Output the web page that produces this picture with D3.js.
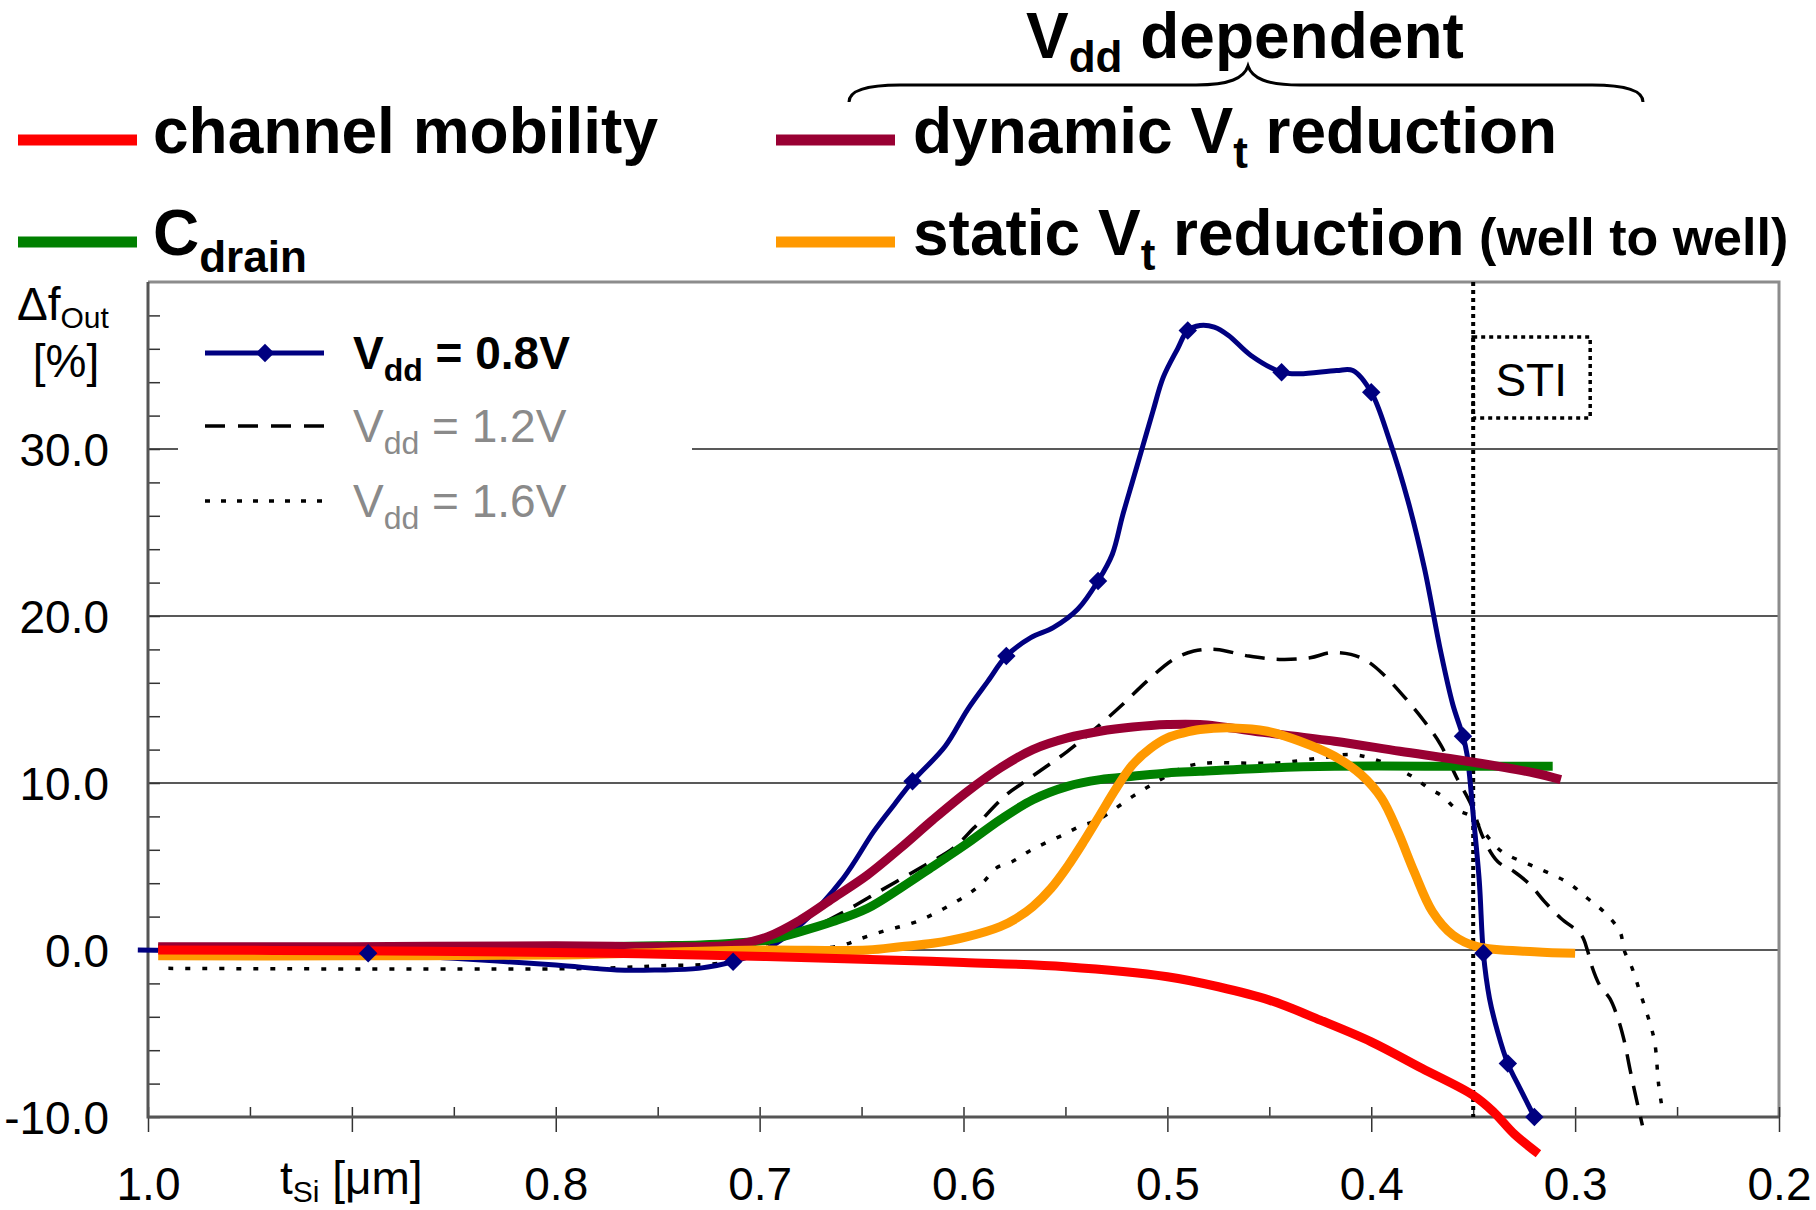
<!DOCTYPE html>
<html>
<head>
<meta charset="utf-8">
<script src="https://cdn.jsdelivr.net/npm/d3@7"></script>
<style>
  body { margin: 0; background: #fff; }
  svg { display: block; }
  text { font-family: "Liberation Sans", Arial, sans-serif; white-space: pre; }
</style>
</head>
<body>
<svg id="chart"></svg>
<script>
/* Values: [t_Si in um, delta f_out in %] */
var mobility = [[0.995, 0.0], [0.9, -0.05], [0.8, -0.15], [0.73, -0.3], [0.65, -0.55], [0.6, -0.75],
  [0.55, -1.0], [0.5, -1.6], [0.475, -2.2], [0.45, -3.0], [0.425, -4.2], [0.4, -5.5], [0.375, -7.1],
  [0.35, -8.7], [0.34, -9.7], [0.33, -11.0], [0.318, -12.2]];

var cDrain = [[0.995, 0.1], [0.9, 0.1], [0.8, 0.15], [0.75, 0.25], [0.729, 0.3], [0.713, 0.4],
  [0.696, 0.6], [0.68, 1.1], [0.664, 1.7], [0.647, 2.5], [0.631, 3.7], [0.615, 5.0], [0.598, 6.4],
  [0.582, 7.8], [0.566, 9.0], [0.549, 9.8], [0.533, 10.2], [0.517, 10.4], [0.5, 10.6], [0.484, 10.7],
  [0.45, 10.9], [0.418, 11.0], [0.353, 11.0], [0.311, 11.0]];

var dynamicVt = [[0.995, 0.2], [0.9, 0.2], [0.8, 0.25], [0.729, 0.2], [0.713, 0.3], [0.696, 0.8],
  [0.68, 1.8], [0.664, 3.1], [0.647, 4.5], [0.631, 6.1], [0.615, 7.8], [0.598, 9.5], [0.582, 10.9],
  [0.566, 12.0], [0.549, 12.7], [0.533, 13.1], [0.517, 13.35], [0.5, 13.5], [0.484, 13.5], [0.451, 13.0],
  [0.418, 12.5], [0.386, 11.9], [0.353, 11.3], [0.32, 10.6], [0.307, 10.2]];

var staticVt = [[0.995, -0.35], [0.9, -0.35], [0.8, -0.3], [0.75, -0.15], [0.7, 0.0], [0.647, 0.0],
  [0.631, 0.2], [0.615, 0.4], [0.598, 0.8], [0.582, 1.4], [0.574, 1.9], [0.566, 2.6], [0.557, 3.7],
  [0.549, 5.0], [0.541, 6.5], [0.533, 8.1], [0.525, 9.7], [0.517, 11.1], [0.508, 12.1], [0.5, 12.7],
  [0.492, 13.0], [0.484, 13.2], [0.468, 13.3], [0.451, 13.1], [0.435, 12.5], [0.418, 11.6], [0.405, 10.5],
  [0.395, 9.1], [0.387, 7.1], [0.379, 4.7], [0.37, 2.3], [0.36, 0.9], [0.348, 0.2], [0.32, -0.1], [0.3, -0.2]];

var vdd08 = [[1.005, 0.0], [0.95, -0.1], [0.892, -0.2], [0.85, -0.5], [0.8, -0.9], [0.77, -1.2],
  [0.75, -1.2], [0.73, -1.1], [0.713, -0.7], [0.696, 0.1], [0.68, 1.5], [0.659, 4.3], [0.644, 7.1],
  [0.634, 8.7], [0.625, 10.1], [0.609, 12.2], [0.598, 14.4], [0.588, 16.1], [0.579, 17.6], [0.567, 18.7],
  [0.556, 19.3], [0.544, 20.4], [0.534, 22.1], [0.527, 23.7], [0.522, 26.0], [0.517, 28.1], [0.512, 30.2],
  [0.507, 32.3], [0.502, 34.3], [0.495, 36.0], [0.49, 37.1], [0.484, 37.4], [0.477, 37.3], [0.47, 36.8],
  [0.459, 35.6], [0.444, 34.6], [0.435, 34.5], [0.417, 34.7], [0.409, 34.7], [0.4, 33.4], [0.391, 30.5],
  [0.382, 26.9], [0.374, 22.9], [0.366, 17.9], [0.36, 14.7], [0.355, 12.8], [0.353, 11.7], [0.35, 8.1],
  [0.347, 4.1], [0.345, -0.2], [0.342, -2.9], [0.338, -4.9], [0.333, -6.8], [0.327, -8.3], [0.32, -10.0]];

var vdd08Markers = [[0.892, -0.2], [0.713, -0.7], [0.625, 10.1], [0.579, 17.6], [0.534, 22.1],
  [0.49, 37.1], [0.444, 34.6], [0.4, 33.4], [0.355, 12.8], [0.345, -0.2], [0.333, -6.8], [0.32, -10.0]];

var vdd12 = [[0.995, 0.0], [0.8, 0.0], [0.72, 0.0], [0.7, 0.3], [0.68, 1.0], [0.66, 2.2], [0.64, 3.6],
  [0.62, 5.0], [0.605, 6.1], [0.595, 7.3], [0.579, 9.3], [0.571, 10.0], [0.549, 11.9], [0.533, 13.5],
  [0.522, 14.7], [0.51, 16.1], [0.497, 17.4], [0.487, 17.9], [0.476, 18.0], [0.46, 17.6], [0.445, 17.4],
  [0.43, 17.5], [0.42, 17.8], [0.41, 17.7], [0.402, 17.3], [0.394, 16.5], [0.382, 14.9], [0.374, 13.7],
  [0.366, 12.3], [0.358, 10.3], [0.351, 8.7], [0.345, 6.7], [0.338, 5.3], [0.33, 4.7], [0.322, 3.9],
  [0.315, 2.9], [0.307, 1.9], [0.297, 0.9], [0.294, 0.0], [0.292, -0.9], [0.288, -2.1], [0.283, -2.9],
  [0.279, -4.1], [0.276, -5.4], [0.273, -7.2], [0.27, -8.9], [0.267, -10.5]];

var vdd16 = [[0.99, -1.1], [0.78, -1.1], [0.75, -0.95], [0.72, -0.8], [0.7, -0.3], [0.675, 0.0],
  [0.659, 0.3], [0.65, 0.7], [0.64, 1.1], [0.631, 1.4], [0.623, 1.7], [0.614, 2.2], [0.605, 2.8],
  [0.597, 3.4], [0.59, 4.1], [0.584, 4.9], [0.576, 5.3], [0.568, 5.9], [0.56, 6.4], [0.551, 6.9],
  [0.543, 7.4], [0.534, 7.8], [0.517, 9.2], [0.509, 9.8], [0.502, 10.3], [0.493, 10.9], [0.487, 11.1],
  [0.48, 11.2], [0.447, 11.2], [0.425, 11.5], [0.41, 11.7], [0.398, 11.4], [0.38, 10.4], [0.372, 9.7],
  [0.365, 9.2], [0.358, 8.4], [0.351, 8.0], [0.345, 7.1], [0.336, 5.9], [0.322, 5.1], [0.311, 4.5],
  [0.303, 4.0], [0.294, 3.1], [0.286, 2.3], [0.278, 1.1], [0.276, 0.0], [0.272, -1.1], [0.268, -2.6],
  [0.264, -4.1], [0.261, -5.5], [0.259, -8.1], [0.257, -9.7]];

var xTicks = [1.0, 0.9, 0.8, 0.7, 0.6, 0.5, 0.4, 0.3, 0.2];
var xMinorTicks = [0.95, 0.85, 0.75, 0.65, 0.55, 0.45, 0.35, 0.25];
var yTicks = [-10, 0, 10, 20, 30];
var yMinorTicks = [-8, -6, -4, -2, 2, 4, 6, 8, 12, 14, 16, 18, 22, 24, 26, 28, 32, 34, 36, 38];
var gridValues = [0, 10, 20, 30];
var stiPosition = 0.35;

var width = 1816;
var height = 1210;
var plotLeft = 148;
var plotRight = 1779;
var plotTop = 282;
var plotBottom = 1117;

var svg = d3.select("#chart").attr("width", width).attr("height", height);
svg.append("rect").attr("width", width).attr("height", height).attr("fill", "#fff");

var x = d3.scaleLinear().domain([1.0, 0.2]).range([plotLeft, plotRight]);
var y = d3.scaleLinear().domain([-10, 40]).range([plotBottom, plotTop]);

/* text with sub-scripts: parts = [text, size, baseline shift] */
function richText(xPos, yPos, parts, weight, fill, anchor) {
  var t = svg.append("text")
    .attr("x", xPos)
    .attr("y", yPos)
    .attr("font-weight", weight || "normal")
    .attr("fill", fill || "#000")
    .attr("text-anchor", anchor || "start");
  var shift = 0;
  parts.forEach(function(p) {
    var s = p[2] || 0;
    t.append("tspan").attr("font-size", p[1]).attr("dy", s - shift).text(p[0]);
    shift = s;
  });
  return t;
}

/* grid lines */
svg.append("g")
  .selectAll("line")
  .data(gridValues)
  .enter()
  .append("line")
  .attr("x1", plotLeft)
  .attr("x2", plotRight)
  .attr("y1", d => y(d))
  .attr("y2", d => y(d))
  .attr("stroke", "#222")
  .attr("stroke-width", 1.5);

/* top and right frame */
svg.append("path")
  .attr("d", `M${plotLeft},${plotTop}H${plotRight}V${plotBottom}`)
  .attr("fill", "none")
  .attr("stroke", "#8c8c8c")
  .attr("stroke-width", 3);

/* Y axis */
var yMinorAxis = d3.axisRight(y).tickValues(yMinorTicks.concat(yTicks)).tickSize(12).tickFormat("");
svg.append("g")
  .attr("transform", `translate(${plotLeft},0)`)
  .call(yMinorAxis)
  .call(g => g.select(".domain").remove())
  .selectAll("line")
  .attr("stroke", "#333")
  .attr("stroke-width", 1.5);

var yAxis = d3.axisLeft(y).tickValues(yTicks).tickSize(0).tickPadding(39).tickFormat(d => d.toFixed(1));
svg.append("g")
  .attr("transform", `translate(${plotLeft},0)`)
  .call(yAxis)
  .call(g => g.select(".domain").remove())
  .attr("font-family", null)
  .attr("font-size", 46)
  .selectAll("text")
  .attr("dy", "0.36em")
  .attr("fill", "#000");

/* X axis */
var xMinorAxis = d3.axisTop(x).tickValues(xMinorTicks.concat(xTicks)).tickSize(10).tickFormat("");
svg.append("g")
  .attr("transform", `translate(0,${plotBottom})`)
  .call(xMinorAxis)
  .call(g => g.select(".domain").remove())
  .selectAll("line")
  .attr("stroke", "#333")
  .attr("stroke-width", 1.5);

var xAxis = d3.axisBottom(x)
  .tickValues(xTicks)
  .tickSize(15)
  .tickPadding(35)
  .tickFormat(d => (d === 0.9 ? "" : d.toFixed(1)));
svg.append("g")
  .attr("transform", `translate(0,${plotBottom})`)
  .call(xAxis)
  .call(g => g.select(".domain").remove())
  .attr("font-family", null)
  .attr("font-size", 46)
  .call(g => g.selectAll("line").attr("stroke", "#333").attr("stroke-width", 1.5))
  .selectAll("text")
  .attr("fill", "#000");

/* left and bottom axis lines */
svg.append("path")
  .attr("d", `M${plotLeft},${plotTop}V${plotBottom}H${plotRight}`)
  .attr("fill", "none")
  .attr("stroke", "#555")
  .attr("stroke-width", 3);

/* axis titles */
richText(280, 1194, [["t", 46], ["Si", 30, 8], [" [μm]", 46]]);
richText(17, 320, [["Δf", 46], ["Out", 30, 8]]);
richText(66, 377, [["[%]", 46]], "normal", "#000", "middle");

/* STI marker */
svg.append("line")
  .attr("x1", x(stiPosition))
  .attr("x2", x(stiPosition))
  .attr("y1", plotTop)
  .attr("y2", plotBottom)
  .attr("stroke", "#000")
  .attr("stroke-width", 4)
  .attr("stroke-dasharray", "4,4");

svg.append("rect")
  .attr("x", x(stiPosition))
  .attr("y", 337)
  .attr("width", 117)
  .attr("height", 81)
  .attr("fill", "none")
  .attr("stroke", "#000")
  .attr("stroke-width", 3.5)
  .attr("stroke-dasharray", "4,4");
richText(x(stiPosition) + 58, 396, [["STI", 46]], "normal", "#000", "middle");

/* curves */
var line = d3
  .line()
  .x(d => x(d[0]))
  .y(d => y(d[1]))
  .curve(d3.curveCatmullRom.alpha(0.5));

var series = [
  { values: vdd16, color: "#000", width: 3.5, dash: "5,12" },
  { values: vdd12, color: "#000", width: 3.5, dash: "20,12" },
  { values: vdd08, color: "#000080", width: 5, dash: null },
  { values: cDrain, color: "#008000", width: 9, dash: null },
  { values: dynamicVt, color: "#990033", width: 9, dash: null },
  { values: staticVt, color: "#ff9900", width: 9, dash: null },
  { values: mobility, color: "#ff0000", width: 9, dash: null }
];

svg.append("g")
  .attr("class", "lines")
  .selectAll("path")
  .data(series)
  .enter()
  .append("path")
  .attr("d", d => line(d.values))
  .attr("fill", "none")
  .attr("stroke", d => d.color)
  .attr("stroke-width", d => d.width)
  .attr("stroke-dasharray", d => d.dash)
  .attr("stroke-linejoin", "round");

var diamond = d3.symbol().type(d3.symbolSquare).size(170);
svg.append("g")
  .selectAll("path")
  .data(vdd08Markers)
  .enter()
  .append("path")
  .attr("d", diamond)
  .attr("transform", d => `translate(${x(d[0])},${y(d[1])}) rotate(45)`)
  .attr("fill", "#000080");

/* legend inside plot */
svg.append("rect")
  .attr("x", 178)
  .attr("y", 318)
  .attr("width", 514)
  .attr("height", 225)
  .attr("fill", "#fff");

var innerLegend = [
  { y: 353, dash: null, width: 5, color: "#000080", parts: [["V", 46], ["dd", 32, 12], [" = 0.8V", 46]], weight: "bold", fill: "#000" },
  { y: 426, dash: "20,13", width: 3.5, color: "#000", parts: [["V", 46], ["dd", 32, 12], [" = 1.2V", 46]], weight: "normal", fill: "#8a8a8a" },
  { y: 501, dash: "5,11", width: 3.5, color: "#000", parts: [["V", 46], ["dd", 32, 12], [" = 1.6V", 46]], weight: "normal", fill: "#8a8a8a" }
];

innerLegend.forEach(function(d) {
  svg.append("line")
    .attr("x1", 205)
    .attr("x2", 324)
    .attr("y1", d.y)
    .attr("y2", d.y)
    .attr("stroke", d.color)
    .attr("stroke-width", d.width)
    .attr("stroke-dasharray", d.dash);
  richText(353, d.y + 16, d.parts, d.weight, d.fill);
});
svg.append("path")
  .attr("d", diamond)
  .attr("transform", "translate(265,353) rotate(45)")
  .attr("fill", "#000080");

/* legend above the plot */
var topLegend = [
  { x: 18, y: 140, color: "#ff0000", parts: [["channel mobility", 64]] },
  { x: 18, y: 242, color: "#008000", parts: [["C", 64], ["drain", 44, 17]] },
  { x: 776, y: 140, color: "#990033", parts: [["dynamic V", 64], ["t", 44, 15], [" reduction", 64]] },
  { x: 776, y: 242, color: "#ff9900", parts: [["static V", 64], ["t", 44, 15], [" reduction", 64], [" (well to well)", 52]] }
];

topLegend.forEach(function(d) {
  svg.append("line")
    .attr("x1", d.x)
    .attr("x2", d.x + 119)
    .attr("y1", d.y)
    .attr("y2", d.y)
    .attr("stroke", d.color)
    .attr("stroke-width", 11);
  richText(d.x + 135 + (d.x > 100 ? 2 : 0), d.y + 13, d.parts, "bold", "#000");
});

/* V_dd dependent brace */
richText(1026, 58, [["V", 64], ["dd", 44, 14], [" dependent", 64]], "bold", "#000");
svg.append("path")
  .attr("d", "M849,102 C849,90 868,85 900,85 L1196,85 C1230,85 1244,78 1248,66 C1252,78 1266,85 1300,85 L1592,85 C1624,85 1643,90 1643,102")
  .attr("fill", "none")
  .attr("stroke", "#000")
  .attr("stroke-width", 3);
</script>
</body>
</html>
